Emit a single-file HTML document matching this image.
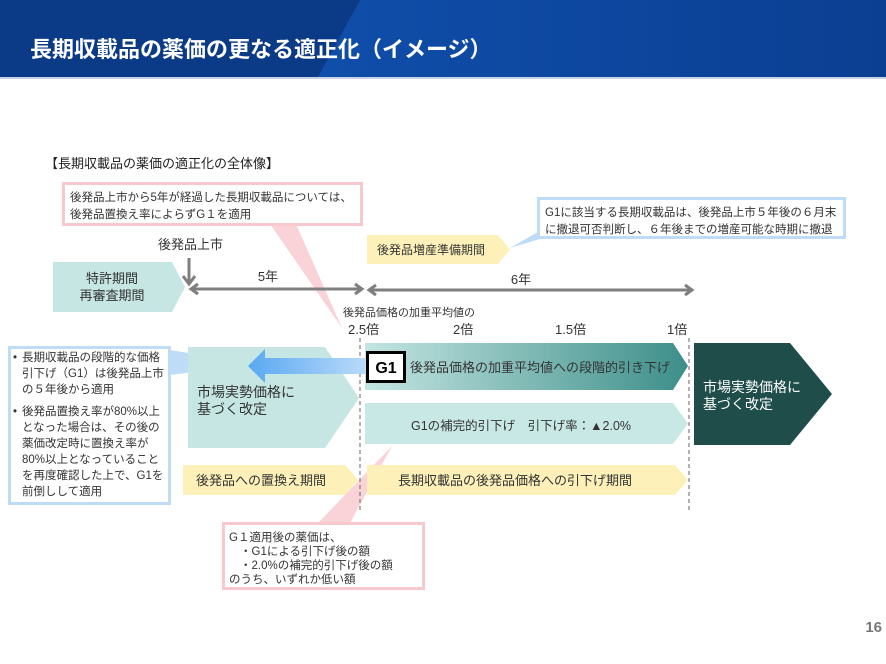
<!DOCTYPE html>
<html><head><meta charset="utf-8"><style>
html,body{margin:0;padding:0;background:#fff;}
svg{display:block;font-family:"Liberation Sans","Noto Sans CJK JP",sans-serif;}
</style></head><body>
<svg width="886" height="664" viewBox="0 0 886 664" xmlns="http://www.w3.org/2000/svg">
<defs>
<linearGradient id="g1" x1="0" x2="1" y1="0" y2="0"><stop offset="0" stop-color="#c4e5e2"/><stop offset="1" stop-color="#3d8e89"/></linearGradient>
<linearGradient id="ba" x1="0" x2="1" y1="0" y2="0"><stop offset="0" stop-color="#5aa8f2"/><stop offset="1" stop-color="#b8dafa"/></linearGradient>
<linearGradient id="hd" x1="0" x2="1" y1="0" y2="0"><stop offset="0" stop-color="#0f4eaa"/><stop offset="1" stop-color="#0b3f92"/></linearGradient>
</defs>
<rect x="0" y="0" width="886" height="77" fill="#0b3a86"/>
<polygon points="360,0 886,0 886,77 318,77" fill="url(#hd)"/>
<rect x="0" y="77" width="886" height="2" fill="#c8d4e6"/>
<text x="30" y="57" font-size="22" font-weight="bold" fill="#fff">長期収載品の薬価の更なる適正化（イメージ）</text>

<text x="45" y="168" font-size="13" fill="#222">【長期収載品の薬価の適正化の全体像】</text>

<polygon points="270,224 296,224 342,328" fill="#f9d3d8"/>
<polygon points="318,523 350,523 392,446" fill="#f9d3d8"/>
<polygon points="510,248 550,225 550,236" fill="#bfdcf7"/>
<polygon points="170,350 170,375 255,364" fill="#bfdcf7"/>

<rect x="63.5" y="183.5" width="298" height="41" fill="#fff" stroke="#f7c9cf" stroke-width="3"/>
<text x="70" y="201" font-size="11.5" fill="#333">後発品上市から5年が経過した長期収載品については、</text>
<text x="70" y="218" font-size="11.5" fill="#333">後発品置換え率によらずG１を適用</text>

<rect x="538.5" y="198.5" width="306" height="39" fill="#fff" stroke="#bfdcf7" stroke-width="3"/>
<text x="545" y="216" font-size="11.5" fill="#333">G1に該当する長期収載品は、後発品上市５年後の６月末</text>
<text x="545" y="233" font-size="11.5" fill="#333">に撤退可否判断し、６年後までの増産可能な時期に撤退</text>

<polygon points="367,235 498,235 510,249.5 498,264 367,264" fill="#fdf0b8"/>
<text x="377" y="254" font-size="12" fill="#333">後発品増産準備期間</text>

<text x="158" y="249" font-size="13" fill="#333">後発品上市</text>
<line x1="189" y1="258" x2="189" y2="282" stroke="#7f7f7f" stroke-width="3"/>
<polyline points="183,276 189,284 195,276" fill="none" stroke="#7f7f7f" stroke-width="3"/>

<polygon points="53,262 172,262 185,287 172,312 53,312" fill="#c6e6e3"/>
<text x="112" y="283" font-size="13" fill="#333" text-anchor="middle">特許期間</text>
<text x="112" y="300" font-size="13" fill="#333" text-anchor="middle">再審査期間</text>

<line x1="192" y1="289" x2="360" y2="289" stroke="#7f7f7f" stroke-width="3"/>
<polyline points="198,284 191,289 198,294" fill="none" stroke="#7f7f7f" stroke-width="3"/>
<polyline points="355,284 362,289 355,294" fill="none" stroke="#7f7f7f" stroke-width="3"/>
<text x="268" y="281" font-size="13" fill="#333" text-anchor="middle">5年</text>

<line x1="370" y1="290" x2="691" y2="290" stroke="#7f7f7f" stroke-width="3"/>
<polyline points="376,285 369,290 376,295" fill="none" stroke="#7f7f7f" stroke-width="3"/>
<polyline points="685,285 692,290 685,295" fill="none" stroke="#7f7f7f" stroke-width="3"/>
<text x="521" y="284" font-size="13" fill="#333" text-anchor="middle">6年</text>

<text x="343" y="316" font-size="11" fill="#333">後発品価格の加重平均値の</text>
<text x="348" y="334" font-size="13" fill="#333">2.5倍</text>
<text x="453" y="334" font-size="13" fill="#333">2倍</text>
<text x="555" y="334" font-size="13" fill="#333">1.5倍</text>
<text x="667" y="334" font-size="13" fill="#333">1倍</text>

<line x1="360" y1="338" x2="360" y2="510" stroke="#666" stroke-width="1" stroke-dasharray="4,3"/>
<line x1="689" y1="338" x2="689" y2="510" stroke="#666" stroke-width="1" stroke-dasharray="4,3"/>

<polygon points="188,347 325,347 359,398 325,448 188,448" fill="#c6e6e3"/>
<text x="197" y="397" font-size="14" fill="#333">市場実勢価格に</text>
<text x="197" y="414" font-size="14" fill="#333">基づく改定</text>
<polygon points="365,358 265,358 265,349 248,366 265,383 265,374 365,374" fill="url(#ba)"/>

<polygon points="365,343 673,343 688,366 673,390 365,390" fill="url(#g1)"/>
<rect x="367.5" y="352.5" width="37" height="29" fill="#fff" stroke="#000" stroke-width="3"/>
<text x="386" y="373" font-size="16" font-weight="bold" fill="#000" text-anchor="middle">G1</text>
<text x="410" y="372" font-size="13" fill="#333">後発品価格の加重平均値への段階的引き下げ</text>

<polygon points="365,403 673,403 688,423.5 673,444 365,444" fill="#c8e8e6"/>
<text x="411" y="430" font-size="12.5" fill="#333">G1の補完的引下げ　引下げ率：▲2.0%</text>

<polygon points="694,343 790,343 832,394 790,445 694,445" fill="#1f4d4a"/>
<text x="703" y="392" font-size="14" fill="#fff">市場実勢価格に</text>
<text x="703" y="409" font-size="14" fill="#fff">基づく改定</text>

<rect x="9.5" y="347.5" width="160" height="156" fill="#fff" stroke="#bfdcf7" stroke-width="3"/>
<g font-size="11.5" fill="#333">
<text x="13" y="361">•</text><text x="22" y="361">長期収載品の段階的な価格</text>
<text x="22" y="377">引下げ（G1）は後発品上市</text>
<text x="22" y="393">の５年後から適用</text>
<text x="13" y="415">•</text><text x="22" y="415">後発品置換え率が80%以上</text>
<text x="22" y="431">となった場合は、その後の</text>
<text x="22" y="447">薬価改定時に置換え率が</text>
<text x="22" y="463">80%以上となっていること</text>
<text x="22" y="479">を再度確認した上で、G1を</text>
<text x="22" y="495">前倒しして適用</text>
</g>

<polygon points="183,465 345,465 358,480 345,495 183,495" fill="#fdf0b8"/>
<text x="196" y="485" font-size="13" fill="#333">後発品への置換え期間</text>
<polygon points="367,465 675,465 688,480 675,495 367,495" fill="#fdf0b8"/>
<text x="398" y="485" font-size="13" fill="#333">長期収載品の後発品価格への引下げ期間</text>

<rect x="223.5" y="523.5" width="200" height="65" fill="#fff" stroke="#f7c9cf" stroke-width="3"/>
<g font-size="11.5" fill="#333">
<text x="229" y="541">G１適用後の薬価は、</text>
<text x="240" y="555">・G1による引下げ後の額</text>
<text x="240" y="569">・2.0%の補完的引下げ後の額</text>
<text x="229" y="583">のうち、いずれか低い額</text>
</g>

<text x="882" y="632" font-size="15" font-weight="bold" fill="#777" text-anchor="end">16</text>
</svg>
</body></html>
